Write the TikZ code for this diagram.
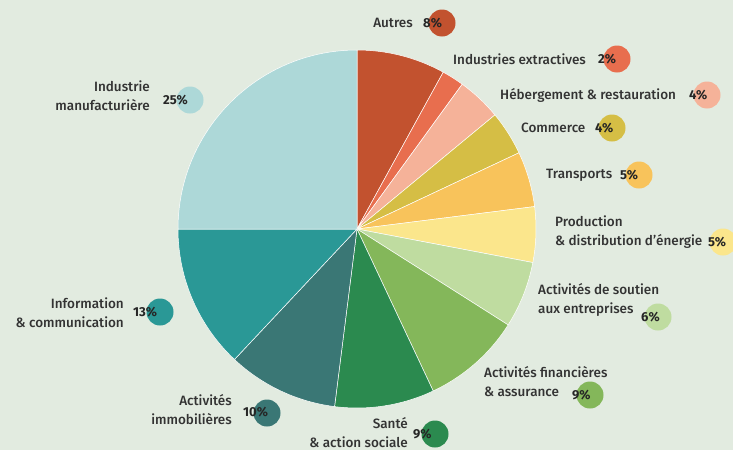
\documentclass[tikz,border=0pt]{standalone}
\usepackage{fontspec}
\setmainfont{Fira Sans}
\newfontfamily\labfont{Fira Sans}[UprightFont=* Medium]
\usepackage{tikz}

\definecolor{fond}{HTML}{E2EBE0}
\definecolor{cAutres}{HTML}{C2522F}
\definecolor{cExtr}{HTML}{E86E4E}
\definecolor{cHeb}{HTML}{F5B299}
\definecolor{cComm}{HTML}{D5BE45}
\definecolor{cTrans}{HTML}{F8C35B}
\definecolor{cProd}{HTML}{FBE68C}
\definecolor{cSout}{HTML}{BFDCA0}
\definecolor{cFin}{HTML}{84B75A}
\definecolor{cSante}{HTML}{2B8A4F}
\definecolor{cImmo}{HTML}{3A7775}
\definecolor{cInfo}{HTML}{2A9896}
\definecolor{cIndus}{HTML}{ADD8D8}

\tikzset{
  slice/.style={draw=white, line width=0.5pt, line join=round},
  lab/.style={inner sep=0pt, font=\labfont\fontsize{13.5}{19}\selectfont, text=black!80},
  badge/.style={circle, inner sep=0pt, minimum size=27pt},
  pct/.style={inner sep=0pt, font=\fontsize{13}{15}\selectfont\bfseries, text=black!85}
}

\begin{document}
\begin{tikzpicture}[x=1pt, y=-1pt]
\fill[fond] (0,0) rectangle (733,450);
\useasboundingbox (0,0) rectangle (733,450);

\coordinate (c) at (357,229);

\filldraw[slice, fill=cAutres] (c) -- ++(-90:179) arc[start angle=-90, end angle=-61.2, radius=179] -- cycle;
\filldraw[slice, fill=cExtr] (c) -- ++(-61.2:179) arc[start angle=-61.2, end angle=-54, radius=179] -- cycle;
\filldraw[slice, fill=cHeb] (c) -- ++(-54:179) arc[start angle=-54, end angle=-39.6, radius=179] -- cycle;
\filldraw[slice, fill=cComm] (c) -- ++(-39.6:179) arc[start angle=-39.6, end angle=-25.2, radius=179] -- cycle;
\filldraw[slice, fill=cTrans] (c) -- ++(-25.2:179) arc[start angle=-25.2, end angle=-7.2, radius=179] -- cycle;
\filldraw[slice, fill=cProd] (c) -- ++(-7.2:179) arc[start angle=-7.2, end angle=10.8, radius=179] -- cycle;
\filldraw[slice, fill=cSout] (c) -- ++(10.8:179) arc[start angle=10.8, end angle=32.4, radius=179] -- cycle;
\filldraw[slice, fill=cFin] (c) -- ++(32.4:179) arc[start angle=32.4, end angle=64.8, radius=179] -- cycle;
\filldraw[slice, fill=cSante] (c) -- ++(64.8:179) arc[start angle=64.8, end angle=97.2, radius=179] -- cycle;
\filldraw[slice, fill=cImmo] (c) -- ++(97.2:179) arc[start angle=97.2, end angle=133.2, radius=179] -- cycle;
\filldraw[slice, fill=cInfo] (c) -- ++(133.2:179) arc[start angle=133.2, end angle=180, radius=179] -- cycle;
\filldraw[slice, fill=cIndus] (c) -- ++(180:179) arc[start angle=180, end angle=270, radius=179] -- cycle;

% badges
\node[badge, fill=cAutres] (bAutres) at (442,23) {};
\node[badge, fill=cExtr] (bExtr) at (617,59) {};
\node[badge, fill=cHeb] (bHeb) at (707,95) {};
\node[badge, fill=cComm] (bComm) at (612,128) {};
\node[badge, fill=cTrans] (bTrans) at (639,175) {};
\node[badge, fill=cProd] (bProd) at (723,242) {};
\node[badge, fill=cSout] (bSout) at (658,317) {};
\node[badge, fill=cFin] (bFin) at (590,395) {};
\node[badge, fill=cSante] (bSante) at (435,434) {};
\node[badge, fill=cImmo] (bImmo) at (267,413) {};
\node[badge, fill=cInfo] (bInfo) at (160,312) {};
\node[badge, fill=cIndus] (bIndus) at (190,100) {};

% percentages
\node[pct, anchor=west] (pAutres) at (423,23) {8\%};
\node[pct, anchor=west] (pExtr) at (598,59) {2\%};
\node[pct, anchor=west] (pHeb) at (689,95) {4\%};
\node[pct, anchor=west] (pComm) at (595,128) {4\%};
\node[pct, anchor=west] (pTrans) at (620,175) {5\%};
\node[pct, anchor=west] (pProd) at (708,242) {5\%};
\node[pct, anchor=west] (pSout) at (641,317) {6\%};
\node[pct, anchor=west] (pFin) at (572,395) {9\%};
\node[pct, anchor=west] (pSante) at (413,434) {9\%};
\node[pct, anchor=west] (pImmo) at (243,412) {10\%};
\node[pct, anchor=west] (pInfo) at (133,312) {13\%};
\node[pct, anchor=west] (pIndus) at (163,100) {25\%};

% labels
\node[lab, anchor=east] (lAutres) at (413,23) {Autres};
\node[lab, anchor=west] (lExtr) at (453,59) {Industries extractives};
\node[lab, anchor=west] (lHeb) at (500,95) {Hébergement \& restauration};
\node[lab, anchor=west] (lComm) at (521,128) {Commerce};
\node[lab, anchor=west] (lTrans) at (546,175) {Transports};
\node[lab, anchor=west, align=left] (lProd) at (555,232) {Production\\\& distribution d’énergie};
\node[lab, anchor=west, align=left] (lSout) at (538,300) {Activités de soutien\\aux entreprises};
\node[lab, anchor=west, align=left] (lFin) at (484,382) {Activités financières\\\& assurance};
\node[lab, anchor=east, align=right] (lSante) at (408,433) {Santé\\\& action sociale};
\node[lab, anchor=east, align=right] (lImmo) at (232,410) {Activités\\immobilières};
\node[lab, anchor=east, align=right] (lInfo) at (124,313) {Information\\\& communication};
\node[lab, anchor=east, align=right] (lIndus) at (150,96) {Industrie\\manufacturière};
\end{tikzpicture}
\end{document}
